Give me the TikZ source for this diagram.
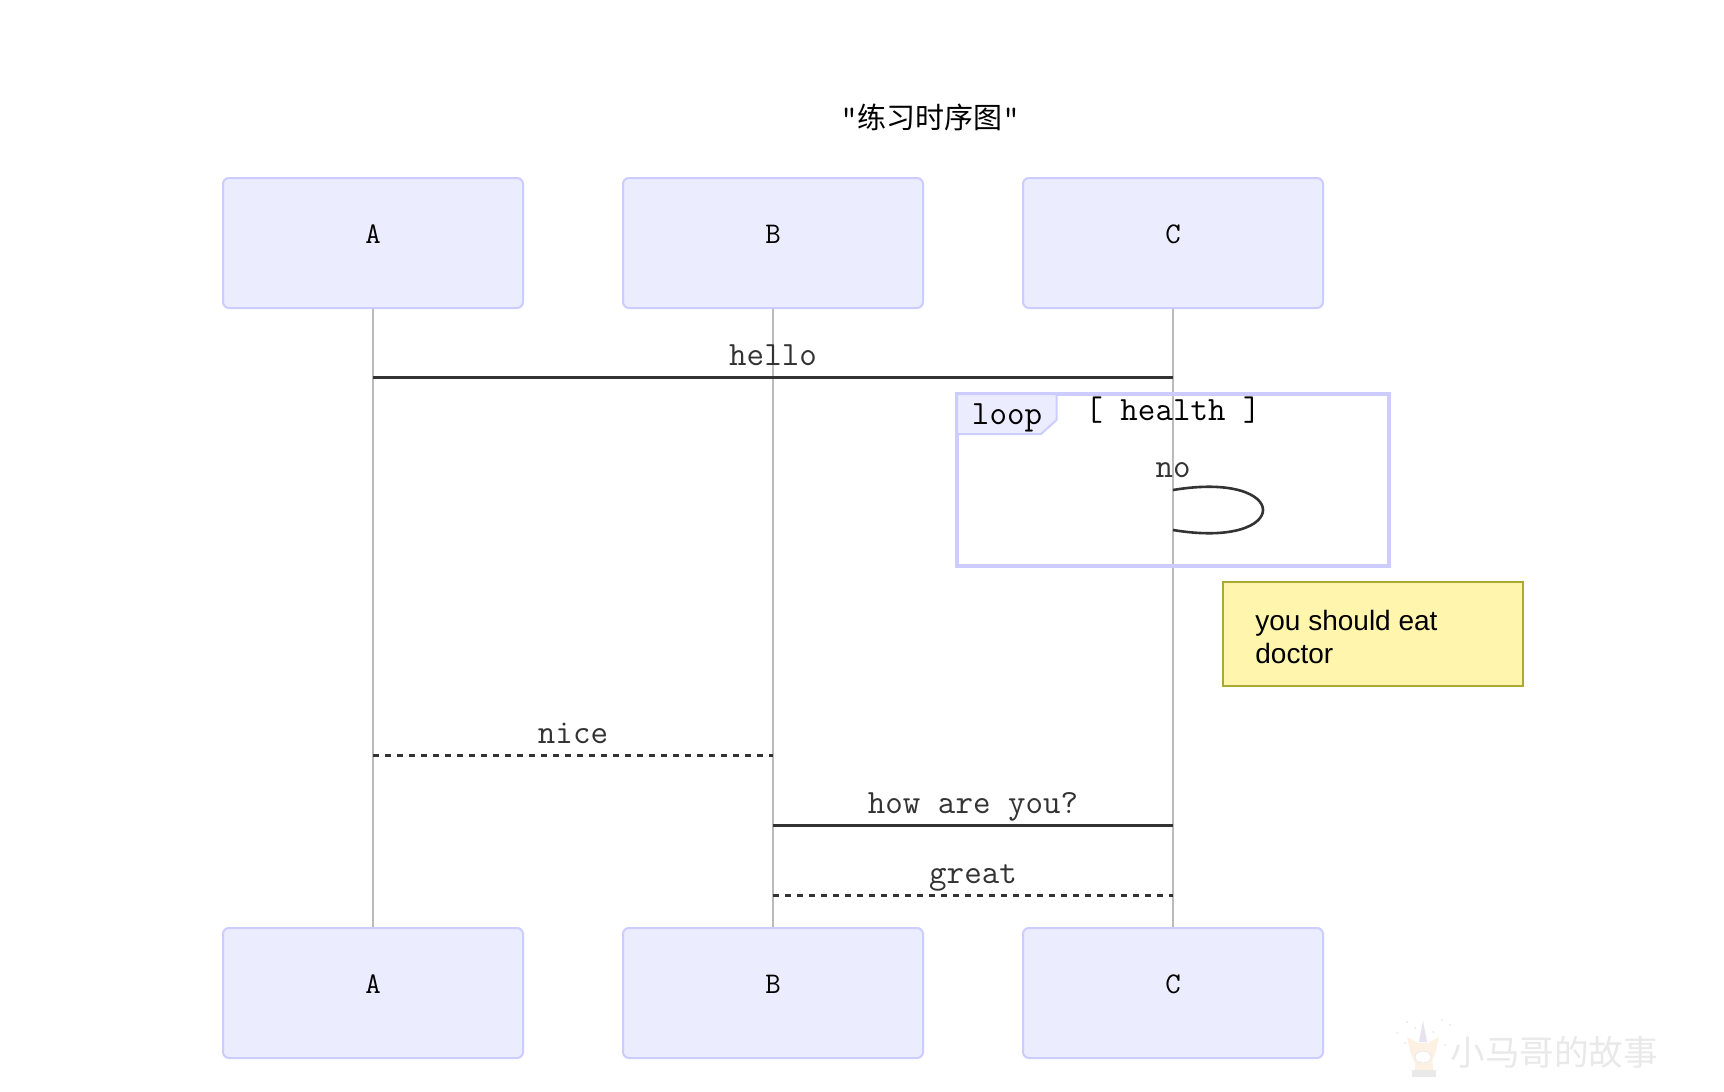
\documentclass[tikz,border=0pt]{standalone}
\usepackage{fontspec}
\setmainfont{Liberation Sans}
\newfontfamily\cjk{Noto Sans CJK SC}
\definecolor{actorfill}{HTML}{ECECFF}
\definecolor{actorline}{HTML}{CCCCFF}
\definecolor{lifeline}{HTML}{BBBBBB}
\definecolor{msgline}{HTML}{333333}
\definecolor{notefill}{HTML}{FFF5AD}
\definecolor{noteline}{HTML}{AAAA33}
\definecolor{wmark}{HTML}{E9E9E9}
\definecolor{wpeach}{HTML}{FDF1E4}
\definecolor{wlilac}{HTML}{E6E3EE}
\tikzset{
  x=0.5pt,y=-0.5pt,
  actor/.style={draw=actorline,fill=actorfill,line width=1pt,rounded corners=3pt,minimum width=150pt,minimum height=65pt,inner sep=0pt},
  actortext/.style={anchor=base,inner sep=0pt,font=\ttfamily\fontsize{15}{17}\selectfont,text=black},
  msgtext/.style={anchor=base,inner sep=0pt,font=\ttfamily\fontsize{17}{19}\selectfont,text=msgline},
  looptext/.style={anchor=base,inner sep=0pt,font=\ttfamily\fontsize{17}{19}\selectfont,text=black},
  life/.style={draw=lifeline,line width=0.9pt},
  msg/.style={draw=msgline,line width=1.5pt},
  dmsg/.style={msg,dash pattern=on 3pt off 3pt},
  loopframe/.style={draw=actorline,line width=2pt},
  spark/.style={fill=wlilac},
}
\begin{document}
\begin{tikzpicture}
\useasboundingbox (0,0) rectangle (1724,1092);
\fill[white] (0,0) rectangle (1724,1092);
% title
\node[anchor=base,inner sep=0pt,font=\ttfamily\fontsize{16.5}{18}\selectfont] (title) at (930,128) {"{\cjk\fontsize{14.5}{18}\selectfont 练习时序图}"};
% actors
\node[actor] (A) at (373,243) {};
\node[actor] (B) at (773,243) {};
\node[actor] (C) at (1173,243) {};
\node[actor] (Ab) at (373,993) {};
\node[actor] (Bb) at (773,993) {};
\node[actor] (Cb) at (1173,993) {};
\node[actortext] (At) at (373,243) {A};
\node[actortext] (Bt) at (773,243) {B};
\node[actortext] (Ct) at (1173,243) {C};
\node[actortext] (Abt) at (373,993) {A};
\node[actortext] (Bbt) at (773,993) {B};
\node[actortext] (Cbt) at (1173,993) {C};
% lifelines
\draw[life] (A.south) -- (Ab.north);
\draw[life] (B.south) -- (Bb.north);
\draw[life] (C.south) -- (Cb.north);
% message anchors
\coordinate (m1a) at (373,377.5);
\coordinate (m1c) at (1173,377.5);
\coordinate (s1) at (1173,490);
\coordinate (s2) at (1173,530);
\coordinate (m3a) at (373,755.5);
\coordinate (m3b) at (773,755.5);
\coordinate (m4b) at (773,825.5);
\coordinate (m4c) at (1173,825.5);
\coordinate (m5b) at (773,895.5);
\coordinate (m5c) at (1173,895.5);
% loop frame
\draw[loopframe] (957,394) rectangle (1389,566);
\draw[draw=actorline,line width=1pt,fill=actorfill,line join=round]
  (957,394) -- (1056.5,394) -- (1056.5,420) -- (1041,434) -- (957,434) -- cycle;
\node[looptext] (looplabel) at (1007,424.5) {loop};
\node[looptext] (loopcond) at (1173,420.5) {[ health ]};
% messages
\draw[msg] (m1a) -- (m1c);
\node[msgtext] (t1) at (773,365.5) {hello};
\node[msgtext] (t2) at (1173,477.5) {no};
\draw[msg,line width=1.3pt] (s1) .. controls (1293,470) and (1293,550) .. (s2);
\draw[dmsg] (m3a) -- (m3b);
\node[msgtext] (t3) at (573,743.5) {nice};
\draw[msg] (m4b) -- (m4c);
\node[msgtext] (t4) at (973,813) {how are you?};
\draw[dmsg] (m5b) -- (m5c);
\node[msgtext] (t5) at (973,883.5) {great};
% note
\node[draw=noteline,fill=notefill,line width=1pt,minimum width=150pt,minimum height=52pt,inner sep=0pt] (note) at (1373,634) {};
\node[anchor=base west,inner sep=0pt,font=\fontsize{14}{16.5}\selectfont,align=left,text=black] (notetext) at (1255,663) {you should eat\\doctor};
% watermark
\fill[wlilac] (1423,1021) -- (1427,1042) -- (1419,1042) -- cycle;
\fill[wpeach] (1407,1037) -- (1418,1043) -- (1428,1043) -- (1439,1037) -- (1435,1054) -- (1431,1064) -- (1415,1064) -- (1411,1054) -- cycle;
\draw[wmark,fill=white,line width=0.4pt] (1423,1057) ellipse (8 and 6);
\fill[wpeach] (1415,1063) rectangle (1433,1071);
\fill[wmark] (1412,1070) rectangle (1436,1077);
\foreach \p in {(1407,1022),(1397,1033),(1405,1043),(1442,1020),(1450,1025),(1445,1045),(1415,1028),(1433,1032)}
  \fill[spark] \p circle (1);
\node[anchor=base west,inner sep=0pt,font=\cjk\fontsize{17.3}{20}\selectfont,text=wmark] (wm) at (1450,1065) {小马哥的故事};
\end{tikzpicture}
\end{document}
